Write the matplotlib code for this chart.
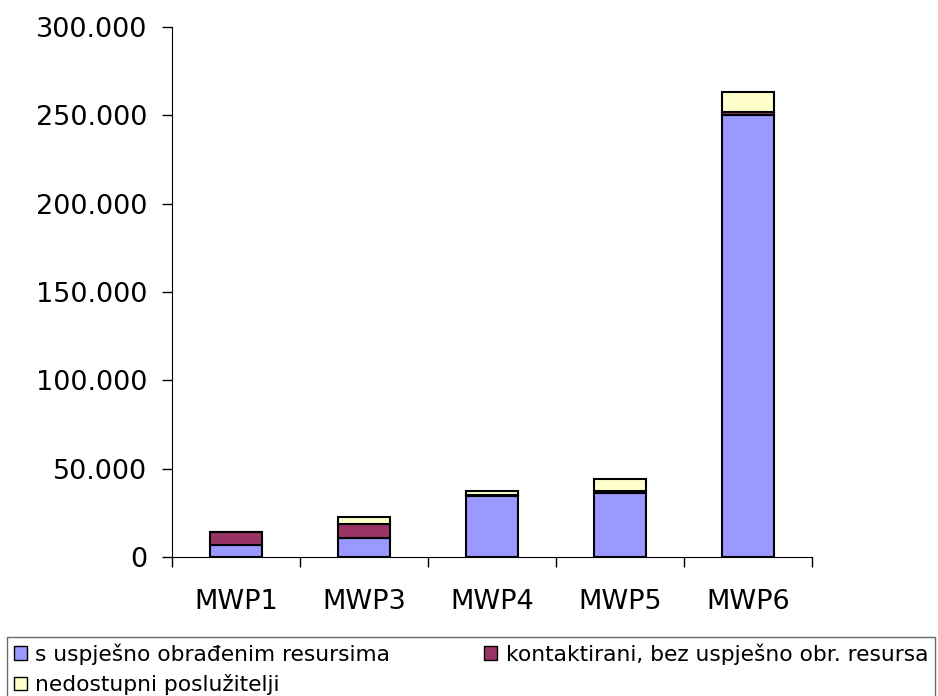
import numpy as np
import matplotlib.pyplot as plt
from matplotlib.ticker import FuncFormatter, FixedLocator
from matplotlib.patches import Patch

# Broj poslužitelja po kategoriji
kategorije = ['MWP1', 'MWP3', 'MWP4', 'MWP5', 'MWP6']
uspjesni = [6800, 10800, 34300, 36500, 250200]
kontaktirani = [7300, 7900, 600, 800, 1600]
nedostupni = [0, 3900, 2500, 6900, 11400]

boje = ['#9999FF', '#993366', '#FFFFCC']
nazivi = ['s uspješno obrađenim resursima',
          'kontaktirani, bez uspješno obr. resursa',
          'nedostupni poslužitelji']

fig = plt.figure(figsize=(9.38, 6.96), dpi=100)
ax = fig.add_axes([0.1834, 0.1997, 0.6823, 0.7615])

x = np.arange(len(kategorije))
dno = np.zeros(len(kategorije))
for vrijednosti, boja in zip([uspjesni, kontaktirani, nedostupni], boje):
    ax.bar(x, vrijednosti, width=0.4, bottom=dno, color=boja,
           edgecolor='black', linewidth=1.5)
    dno += np.array(vrijednosti)

ax.set_xlim(-0.5, len(kategorije) - 0.5)
ax.set_ylim(0, 300000)
ax.set_yticks(np.arange(0, 300001, 50000))
ax.yaxis.set_major_formatter(FuncFormatter(lambda v, p: f'{int(v):,}'.replace(',', '.')))

# kategorije ispod, crtice između stupaca
ax.xaxis.set_major_locator(FixedLocator(np.arange(-0.5, len(kategorije), 1.0)))
ax.xaxis.set_minor_locator(FixedLocator(x))
ax.set_xticklabels([])
ax.set_xticklabels(kategorije, minor=True)
ax.tick_params(axis='x', which='major', length=7, width=1, direction='out')
ax.tick_params(axis='x', which='minor', length=0, labelsize=19.5, pad=23)
ax.tick_params(axis='y', length=7, width=1, labelsize=19.5, pad=11)

ax.spines['top'].set_visible(False)
ax.spines['right'].set_visible(False)

# legenda u dva stupca, redom po recima
redoslijed = [0, 2, 1]
rucke = [Patch(facecolor=boje[i], edgecolor='black', label=nazivi[i]) for i in redoslijed]
leg = fig.legend(handles=rucke, loc='upper left', bbox_to_anchor=(7 / 938, 1 - 637 / 696),
                 ncol=2, fontsize=15.7, frameon=True, fancybox=False,
                 handlelength=0.6, handleheight=0.6, handletextpad=0.4,
                 borderpad=0.3, labelspacing=0.42, borderaxespad=0.0,
                 columnspacing=4.3)
leg.get_frame().set_edgecolor('#444444')
leg.get_frame().set_linewidth(1)

fig.savefig('out.png', dpi=100)
